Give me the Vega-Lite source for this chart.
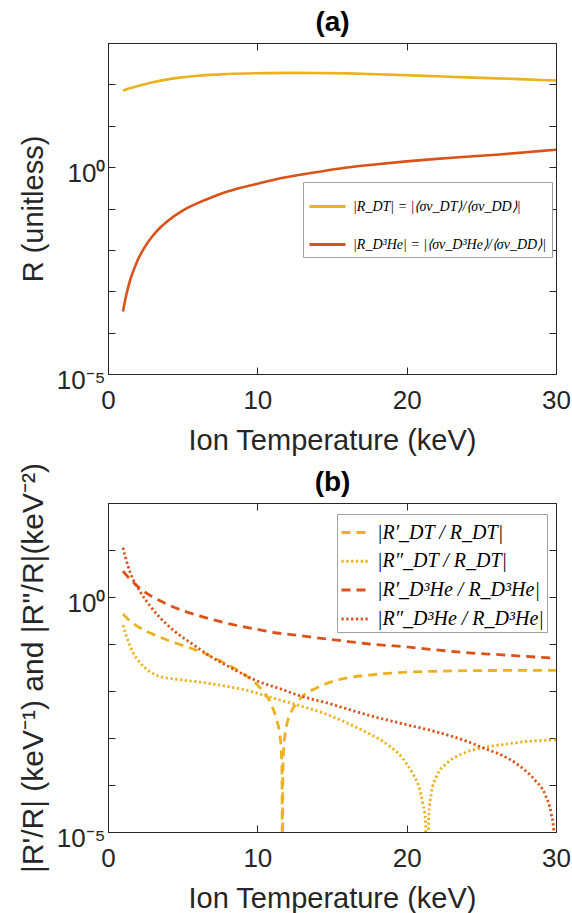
{
  "$schema": "https://vega.github.io/schema/vega-lite/v6.json",
  "background": "white",
  "padding": {"left": 17, "top": 8, "right": 0, "bottom": 0},
  "spacing": 129,
  "bounds": "flush",
  "config": {
    "font": "Liberation Sans",
    "view": {"stroke": "#262626", "strokeWidth": 1},
    "axis": {"grid": false, "domain": false, "ticks": true, "tickColor": "#262626", "tickWidth": 1, "tickSize": -7,
      "labelColor": "#262626", "labelFontSize": 26, "titleColor": "#262626", "titleFontSize": 29, "titleFontWeight": "normal",
      "labelPadding": 10, "titlePadding": 8, "labelFlush": false},
    "axisLeft": {"labelOffset": 6},
    "axisBottom": {"labelPadding": 20, "titlePadding": 13},
    "axisTop": {"titleFontWeight": "bold", "titleFontSize": 28, "titleColor": "#000000", "titlePadding": 6}
  },
  "datasets": {
    "a": [
      {"T": 1, "v": 70.1, "s": "DT"}, {"T": 1.5, "v": 81.3, "s": "DT"}, {"T": 2, "v": 91.2, "s": "DT"}, {"T": 3, "v": 112, "s": "DT"},
      {"T": 4, "v": 132, "s": "DT"}, {"T": 5, "v": 148, "s": "DT"}, {"T": 6, "v": 162, "s": "DT"}, {"T": 8, "v": 178, "s": "DT"},
      {"T": 10, "v": 186, "s": "DT"}, {"T": 12, "v": 190, "s": "DT"}, {"T": 14, "v": 188, "s": "DT"}, {"T": 16, "v": 184, "s": "DT"},
      {"T": 18, "v": 176, "s": "DT"}, {"T": 20, "v": 166, "s": "DT"}, {"T": 22, "v": 157, "s": "DT"}, {"T": 24, "v": 148, "s": "DT"},
      {"T": 26, "v": 140, "s": "DT"}, {"T": 28, "v": 132, "s": "DT"}, {"T": 30, "v": 124.5, "s": "DT"},
      {"T": 1, "v": 0.000324, "s": "D3He"}, {"T": 1.25, "v": 0.000891, "s": "D3He"}, {"T": 1.5, "v": 0.00195, "s": "D3He"},
      {"T": 1.75, "v": 0.00347, "s": "D3He"}, {"T": 2, "v": 0.00575, "s": "D3He"}, {"T": 2.5, "v": 0.0123, "s": "D3He"},
      {"T": 3, "v": 0.0219, "s": "D3He"}, {"T": 3.5, "v": 0.0347, "s": "D3He"}, {"T": 4, "v": 0.0501, "s": "D3He"},
      {"T": 5, "v": 0.0891, "s": "D3He"}, {"T": 6, "v": 0.1349, "s": "D3He"}, {"T": 7, "v": 0.1905, "s": "D3He"},
      {"T": 8, "v": 0.257, "s": "D3He"}, {"T": 10, "v": 0.398, "s": "D3He"}, {"T": 12, "v": 0.575, "s": "D3He"},
      {"T": 14, "v": 0.759, "s": "D3He"}, {"T": 16, "v": 0.977, "s": "D3He"}, {"T": 18, "v": 1.175, "s": "D3He"},
      {"T": 20, "v": 1.38, "s": "D3He"}, {"T": 22, "v": 1.585, "s": "D3He"}, {"T": 24, "v": 1.778, "s": "D3He"},
      {"T": 26, "v": 1.995, "s": "D3He"}, {"T": 28, "v": 2.291, "s": "D3He"}, {"T": 30, "v": 2.63, "s": "D3He"}
    ],
    "b": [
      {"T": 1, "v": 0.4365, "s": "dDT"}, {"T": 1.5, "v": 0.302, "s": "dDT"}, {"T": 2, "v": 0.2344, "s": "dDT"}, {"T": 3, "v": 0.1622, "s": "dDT"},
      {"T": 4, "v": 0.1202, "s": "dDT"}, {"T": 5, "v": 0.0933, "s": "dDT"}, {"T": 6, "v": 0.0724, "s": "dDT"}, {"T": 7, "v": 0.0525, "s": "dDT"},
      {"T": 8, "v": 0.0363, "s": "dDT"}, {"T": 9, "v": 0.024, "s": "dDT"}, {"T": 10, "v": 0.01349, "s": "dDT"}, {"T": 10.5, "v": 0.00891, "s": "dDT"},
      {"T": 11, "v": 0.00468, "s": "dDT"}, {"T": 11.3, "v": 0.0024, "s": "dDT"}, {"T": 11.5, "v": 0.0012, "s": "dDT"}, {"T": 11.6, "v": 0.000562, "s": "dDT"},
      {"T": 11.65, "v": 0.0002, "s": "dDT"}, {"T": 11.68, "v": 1e-7, "s": "dDT"}, {"T": 11.71, "v": 0.0002, "s": "dDT"}, {"T": 11.76, "v": 0.000562, "s": "dDT"},
      {"T": 11.86, "v": 0.0012, "s": "dDT"}, {"T": 12, "v": 0.00209, "s": "dDT"}, {"T": 12.3, "v": 0.0038, "s": "dDT"}, {"T": 12.6, "v": 0.00537, "s": "dDT"},
      {"T": 13, "v": 0.00759, "s": "dDT"}, {"T": 14, "v": 0.01175, "s": "dDT"}, {"T": 15, "v": 0.01585, "s": "dDT"}, {"T": 16, "v": 0.01905, "s": "dDT"},
      {"T": 17.5, "v": 0.02188, "s": "dDT"}, {"T": 20, "v": 0.02512, "s": "dDT"}, {"T": 22, "v": 0.0263, "s": "dDT"}, {"T": 25, "v": 0.02723, "s": "dDT"},
      {"T": 30, "v": 0.02754, "s": "dDT"},
      {"T": 1, "v": 0.2512, "s": "ddDT"}, {"T": 1.34, "v": 0.1175, "s": "ddDT"}, {"T": 1.67, "v": 0.0661, "s": "ddDT"}, {"T": 2.12, "v": 0.0407, "s": "ddDT"},
      {"T": 2.68, "v": 0.02754, "s": "ddDT"}, {"T": 3.46, "v": 0.0204, "s": "ddDT"}, {"T": 4.58, "v": 0.01778, "s": "ddDT"}, {"T": 6.14, "v": 0.01549, "s": "ddDT"},
      {"T": 7.92, "v": 0.01259, "s": "ddDT"}, {"T": 9.48, "v": 0.01, "s": "ddDT"}, {"T": 10.82, "v": 0.00741, "s": "ddDT"}, {"T": 12.38, "v": 0.00537, "s": "ddDT"},
      {"T": 14.84, "v": 0.00302, "s": "ddDT"}, {"T": 16, "v": 0.00209, "s": "ddDT"}, {"T": 17.5, "v": 0.00123, "s": "ddDT"}, {"T": 18.63, "v": 0.000759, "s": "ddDT"},
      {"T": 19.75, "v": 0.000363, "s": "ddDT"}, {"T": 20.4, "v": 0.000174, "s": "ddDT"}, {"T": 20.86, "v": 0.0000832, "s": "ddDT"}, {"T": 21.08, "v": 0.0000407, "s": "ddDT"},
      {"T": 21.26, "v": 0.0000178, "s": "ddDT"}, {"T": 21.37, "v": 1e-7, "s": "ddDT"}, {"T": 21.49, "v": 0.0000245, "s": "ddDT"}, {"T": 21.65, "v": 0.0000661, "s": "ddDT"},
      {"T": 21.98, "v": 0.000148, "s": "ddDT"}, {"T": 22.65, "v": 0.000282, "s": "ddDT"}, {"T": 23.76, "v": 0.000468, "s": "ddDT"}, {"T": 25.1, "v": 0.000617, "s": "ddDT"},
      {"T": 26.44, "v": 0.000724, "s": "ddDT"}, {"T": 28.2, "v": 0.000851, "s": "ddDT"}, {"T": 30, "v": 0.000912, "s": "ddDT"},
      {"T": 1, "v": 3.548, "s": "dHe"}, {"T": 1.5, "v": 2.344, "s": "dHe"}, {"T": 2, "v": 1.66, "s": "dHe"}, {"T": 2.5, "v": 1.259, "s": "dHe"},
      {"T": 3, "v": 1.0, "s": "dHe"}, {"T": 4, "v": 0.6918, "s": "dHe"}, {"T": 5, "v": 0.5129, "s": "dHe"}, {"T": 6, "v": 0.4074, "s": "dHe"},
      {"T": 7, "v": 0.3311, "s": "dHe"}, {"T": 8, "v": 0.2754, "s": "dHe"}, {"T": 9, "v": 0.2344, "s": "dHe"}, {"T": 10, "v": 0.2042, "s": "dHe"},
      {"T": 11, "v": 0.1778, "s": "dHe"}, {"T": 12.84, "v": 0.1514, "s": "dHe"}, {"T": 14, "v": 0.1349, "s": "dHe"}, {"T": 15.5, "v": 0.1189, "s": "dHe"},
      {"T": 17.5, "v": 0.1, "s": "dHe"}, {"T": 19.75, "v": 0.0881, "s": "dHe"}, {"T": 22, "v": 0.075, "s": "dHe"}, {"T": 24.2, "v": 0.0646, "s": "dHe"},
      {"T": 26.4, "v": 0.0589, "s": "dHe"}, {"T": 28, "v": 0.0543, "s": "dHe"}, {"T": 30, "v": 0.0501, "s": "dHe"},
      {"T": 1, "v": 11.22, "s": "ddHe"}, {"T": 1.34, "v": 4.571, "s": "ddHe"}, {"T": 1.67, "v": 2.399, "s": "ddHe"}, {"T": 2.12, "v": 1.349, "s": "ddHe"},
      {"T": 2.79, "v": 0.6607, "s": "ddHe"}, {"T": 3.46, "v": 0.3715, "s": "ddHe"}, {"T": 4.35, "v": 0.1995, "s": "ddHe"}, {"T": 5.47, "v": 0.1096, "s": "ddHe"},
      {"T": 6.8, "v": 0.0562, "s": "ddHe"}, {"T": 8.37, "v": 0.0295, "s": "ddHe"}, {"T": 9.93, "v": 0.0166, "s": "ddHe"}, {"T": 11.5, "v": 0.01122, "s": "ddHe"},
      {"T": 12.84, "v": 0.00794, "s": "ddHe"}, {"T": 14.84, "v": 0.00537, "s": "ddHe"}, {"T": 17.5, "v": 0.00302, "s": "ddHe"}, {"T": 19.75, "v": 0.002, "s": "ddHe"},
      {"T": 21.98, "v": 0.00135, "s": "ddHe"}, {"T": 24.2, "v": 0.000813, "s": "ddHe"}, {"T": 25.1, "v": 0.000617, "s": "ddHe"}, {"T": 26.4, "v": 0.000427, "s": "ddHe"},
      {"T": 27.5, "v": 0.000263, "s": "ddHe"}, {"T": 28.6, "v": 0.000126, "s": "ddHe"}, {"T": 29.3, "v": 0.0000603, "s": "ddHe"}, {"T": 29.68, "v": 0.0000245, "s": "ddHe"},
      {"T": 29.85, "v": 0.0000107, "s": "ddHe"}, {"T": 30, "v": 0.000001, "s": "ddHe"}
    ]
  },
  "vconcat": [
    {
      "width": 448,
      "height": 331,
      "data": {"name": "a"},
      "layer": [
        {
          "mark": {"type": "line", "strokeWidth": 2.6, "interpolate": "monotone", "clip": true},
          "encoding": {
            "x": {"field": "T", "type": "quantitative", "scale": {"domain": [0, 30], "nice": false, "zero": false},
              "axis": {"values": [0, 10, 20, 30], "title": "Ion Temperature (keV)"}},
            "y": {"field": "v", "type": "quantitative", "scale": {"type": "log", "domain": [0.00001, 1000], "nice": false},
              "axis": {"values": [0.00001, 0.0001, 0.001, 0.01, 0.1, 1, 10, 100, 1000], "title": "R (unitless)",
                "labelExpr": "datum.value < 0.00002 ? '10⁻⁵' : (datum.value > 0.9 && datum.value < 1.1 ? '10⁰' : '')"}},
            "color": {"field": "s", "type": "nominal",
              "scale": {"domain": ["DT", "D3He"], "range": ["#EDB120", "#D95319"]},
              "legend": {"orient": "none", "legendX": 195, "legendY": 139, "title": null, "symbolType": "stroke",
                "symbolSize": 1296, "symbolStrokeWidth": 3, "labelFont": "Liberation Serif", "labelFontStyle": "italic",
                "labelFontSize": 14, "labelColor": "#000000", "strokeColor": "#a0a0a0", "fillColor": "white",
                "padding": 5, "rowPadding": 11, "labelOffset": 6, "labelLimit": 400,
                "labelExpr": "datum.label == 'DT' ? '|R_DT| = |⟨σv_DT⟩/⟨σv_DD⟩|' : '|R_D³He| = |⟨σv_D³He⟩/⟨σv_DD⟩|'"}}
          }
        },
        {
          "mark": {"type": "line", "opacity": 0},
          "encoding": {
            "x": {"field": "T", "type": "quantitative", "axis": {"orient": "top", "values": [0, 10, 20, 30], "labels": false, "title": "(a)"}},
            "y": {"field": "v", "type": "quantitative", "axis": {"orient": "right", "values": [0.00001, 0.0001, 0.001, 0.01, 0.1, 1, 10, 100, 1000], "labels": false, "title": null}}
          }
        }
      ],
      "resolve": {"axis": {"x": "independent", "y": "independent"}}
    },
    {
      "width": 448,
      "height": 329,
      "data": {"name": "b"},
      "layer": [
        {
          "mark": {"type": "line", "strokeWidth": 2.8, "interpolate": "monotone", "clip": true},
          "encoding": {
            "x": {"field": "T", "type": "quantitative", "scale": {"domain": [0, 30], "nice": false, "zero": false},
              "axis": {"values": [0, 10, 20, 30], "title": "Ion Temperature (keV)"}},
            "y": {"field": "v", "type": "quantitative", "scale": {"type": "log", "domain": [0.00001, 100], "nice": false},
              "axis": {"values": [0.00001, 0.0001, 0.001, 0.01, 0.1, 1, 10, 100], "title": "|R'/R| (keV⁻¹) and |R''/R|(keV⁻²)", "titleFontSize": 30,
                "labelExpr": "datum.value < 0.00002 ? '10⁻⁵' : (datum.value > 0.9 && datum.value < 1.1 ? '10⁰' : '')"}},
            "color": {"field": "s", "type": "nominal",
              "scale": {"domain": ["dDT", "ddDT", "dHe", "ddHe"], "range": ["#EDB120", "#EDB120", "#D95319", "#D95319"]},
              "legend": {"orient": "none", "legendX": 229, "legendY": 11, "title": null, "symbolType": "stroke",
                "symbolSize": 784, "symbolStrokeWidth": 3, "labelFont": "Liberation Serif", "labelFontStyle": "italic",
                "labelFontSize": 20, "labelColor": "#000000", "strokeColor": "#a0a0a0", "fillColor": "white",
                "padding": 3, "rowPadding": 2.8, "labelOffset": 6, "labelLimit": 400,
                "labelExpr": "datum.label == 'dDT' ? '|R′_DT / R_DT|' : datum.label == 'ddDT' ? '|R″_DT / R_DT|' : datum.label == 'dHe' ? '|R′_D³He / R_D³He|' : '|R″_D³He / R_D³He|'"}},
            "strokeDash": {"field": "s", "type": "nominal",
              "scale": {"domain": ["dDT", "ddDT", "dHe", "ddHe"], "range": [[9, 6], [2.2, 2.6], [9, 6], [2.2, 2.6]]},
              "legend": {"orient": "none", "legendX": 229, "legendY": 11, "title": null, "symbolType": "stroke",
                "symbolSize": 784, "symbolStrokeWidth": 3, "labelFont": "Liberation Serif", "labelFontStyle": "italic",
                "labelFontSize": 20, "labelColor": "#000000", "strokeColor": "#a0a0a0", "fillColor": "white",
                "padding": 3, "rowPadding": 2.8, "labelOffset": 6, "labelLimit": 400,
                "labelExpr": "datum.label == 'dDT' ? '|R′_DT / R_DT|' : datum.label == 'ddDT' ? '|R″_DT / R_DT|' : datum.label == 'dHe' ? '|R′_D³He / R_D³He|' : '|R″_D³He / R_D³He|'"}}
          }
        },
        {
          "mark": {"type": "line", "opacity": 0},
          "encoding": {
            "x": {"field": "T", "type": "quantitative", "axis": {"orient": "top", "values": [0, 10, 20, 30], "labels": false, "title": "(b)"}},
            "y": {"field": "v", "type": "quantitative", "axis": {"orient": "right", "values": [0.00001, 0.0001, 0.001, 0.01, 0.1, 1, 10, 100], "labels": false, "title": null}}
          }
        }
      ],
      "resolve": {"axis": {"x": "independent", "y": "independent"}}
    }
  ],
  "resolve": {"scale": {"color": "independent", "strokeDash": "independent"}, "legend": {"color": "independent", "strokeDash": "independent"}}
}
